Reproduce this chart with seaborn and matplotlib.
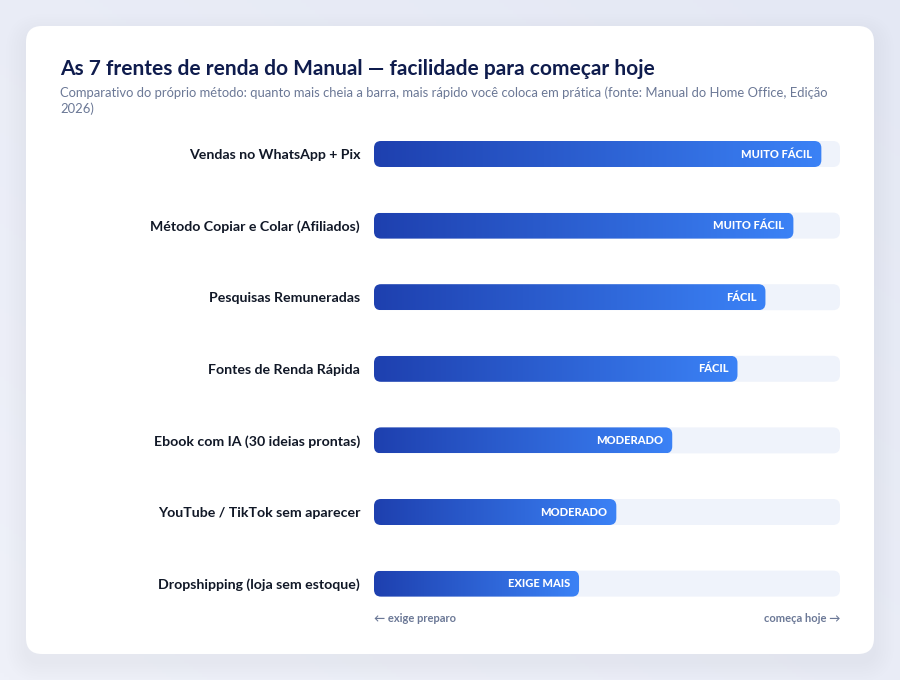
import numpy as np
import pandas as pd
import matplotlib
matplotlib.use("Agg")
import matplotlib.pyplot as plt
from matplotlib.patches import FancyBboxPatch
from matplotlib.colors import LinearSegmentedColormap
import seaborn as sns

# data
categories = [
    "Vendas no WhatsApp + Pix",
    "Método Copiar e Colar (Afiliados)",
    "Pesquisas Remuneradas",
    "Fontes de Renda Rápida",
    "Ebook com IA (30 ideias prontas)",
    "YouTube / TikTok sem aparecer",
    "Dropshipping (loja sem estoque)",
]
ease = [96, 90, 84, 78, 64, 52, 44]
levels = ["MUITO FÁCIL", "MUITO FÁCIL", "FÁCIL", "FÁCIL",
          "MODERADO", "MODERADO", "EXIGE MAIS"]
track_max = 100

title = "As 7 frentes de renda do Manual — facilidade para começar hoje"
subtitle = ("Comparativo do próprio método: quanto mais cheia a barra, mais rápido você coloca em prática "
            "(fonte: Manual do Home Office, Edição\n2026)")

sns.set_theme(style="white")
plt.rcParams["font.family"] = ["Lato", "DejaVu Sans"]

W, H = 900, 680
fig = plt.figure(figsize=(W / 100, H / 100), dpi=100)

# background + card, in pixel units
bg = fig.add_axes([0, 0, 1, 1], zorder=-10)
bg.set_xlim(0, W)
bg.set_ylim(0, H)
bg.axis("off")
gx, gy = np.meshgrid(np.linspace(0, 1, 200), np.linspace(0, 1, 200))
bg_cmap = LinearSegmentedColormap.from_list("bg", ["#eff1f9", "#e4e8f4"])
bg.imshow((gx + (1 - gy)) / 2, cmap=bg_cmap, extent=[0, W, 0, H],
          origin="upper", aspect="auto", zorder=0)
for i in range(8):
    grow = 2 + i * 2.5
    bg.add_patch(FancyBboxPatch((26 - grow, 26 - grow - 8), 848 + 2 * grow, 628 + 2 * grow,
                                boxstyle=f"round,pad=0,rounding_size={16 + grow}",
                                fc="#aab4d2", ec="none", alpha=0.012, zorder=1))
bg.add_patch(FancyBboxPatch((26, 26), 848, 628,
                            boxstyle="round,pad=0,rounding_size=16",
                            fc="white", ec="none", zorder=2))

fig.text(60 / W, 1 - 69 / H, title, fontsize=15, fontweight="bold",
         color="#0f1c4d", va="center", ha="left")
fig.text(60 / W, 1 - 86 / H, subtitle, fontsize=9.35, color="#6b7896",
         va="top", ha="left", linespacing=1.38)

# main chart
row = 71.6
top_px = 154 - row / 2
ax_h = 7 * row
ax = fig.add_axes([374 / W, 1 - (top_px + ax_h) / H, 466 / W, ax_h / H])

df = pd.DataFrame({"frente": categories, "ease": ease, "track": [track_max] * len(ease)})
bar_w = 26 / row
sns.barplot(data=df, x="track", y="frente", orient="h", color="#eff3fb",
            width=bar_w, ax=ax, saturation=1)
sns.barplot(data=df, x="ease", y="frente", orient="h", color="#2b5fd6",
            width=bar_w, ax=ax, saturation=1)

ax.set_xlim(0, track_max)
ax.set_ylim(len(categories) - 0.5, -0.5)
fig.canvas.draw()

# pixel size -> data units for rounded corners
px_x = track_max / 466
px_y = 1 / row
radius = 7 * px_x
aspect = px_y / px_x

bar_cmap = LinearSegmentedColormap.from_list("bar", ["#1e40af", "#3b82f6"])
patches = list(ax.patches)
n = len(categories)
for k, p in enumerate(patches):
    x0, y0 = p.get_x(), p.get_y()
    w, h = p.get_width(), p.get_height()
    p.remove()
    rp = FancyBboxPatch((x0, y0), w, h,
                        boxstyle=f"round,pad=0,rounding_size={radius}",
                        mutation_aspect=aspect, ec="none",
                        fc="#eff3fb" if k < n else "none", zorder=1 if k < n else 2)
    ax.add_patch(rp)
    if k >= n:
        im = ax.imshow(np.linspace(0, 1, 256).reshape(1, -1), cmap=bar_cmap,
                       extent=[x0, x0 + w, y0 + h, y0], aspect="auto", zorder=2)
        im.set_clip_path(rp)

for i, (v, lab) in enumerate(zip(ease, levels)):
    ax.text(v - 9 * px_x, i, lab, ha="right", va="center", color="white",
            fontsize=8, fontweight="black", zorder=5)

ax.set_xlim(0, track_max)
ax.set_ylim(len(categories) - 0.5, -0.5)
ax.set_xlabel("")
ax.set_ylabel("")
ax.set_xticks([])
ax.tick_params(axis="y", length=0, pad=10)
for t in ax.get_yticklabels():
    t.set_fontweight("bold")
    t.set_fontsize(10.2)
    t.set_color("#111827")
sns.despine(ax=ax, left=True, bottom=True)
ax.set_facecolor("none")

fig.text(374 / W, 1 - 619 / H, "← exige preparo", fontsize=8, fontweight="bold",
         color="#6b7896", ha="left", va="center")
fig.text(840 / W, 1 - 619 / H, "começa hoje →", fontsize=8, fontweight="bold",
         color="#6b7896", ha="right", va="center")

fig.savefig("out.png", dpi=100)
